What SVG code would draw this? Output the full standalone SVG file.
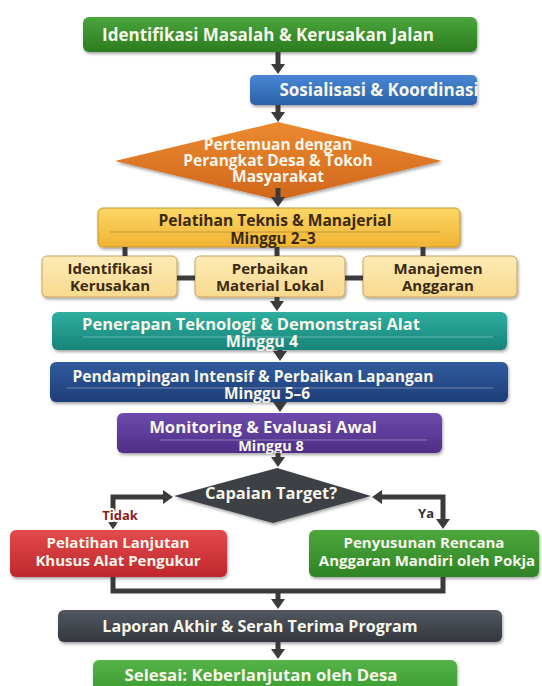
<svg xmlns="http://www.w3.org/2000/svg" width="542" height="686" viewBox="0 0 542 686">
<style>
  text { font-family: "Open Sans", "Noto Sans", "DejaVu Sans", sans-serif; font-weight: 700; text-anchor: middle; font-size: 15px; }
  .w { fill: #f7f6ea; }
  .d { fill: #3a2a12; }
  .box { filter: url(#sh); }
  .sepw { stroke: #ffffff; stroke-opacity: 0.35; stroke-width: 1; }
  .sepd { stroke: #a07a28; stroke-opacity: 0.6; stroke-width: 1; }
  .con { fill: none; stroke: #3b3b3b; stroke-width: 5; }
  .arr { marker-end: url(#ah); }
  .lbl { font-size: 13px; paint-order: stroke; stroke: #ffffff; stroke-width: 4px; stroke-linejoin: round; }
</style>
<defs>
  <filter id="sh" x="-10%" y="-20%" width="120%" height="150%">
    <feDropShadow dx="1" dy="2" stdDeviation="1.5" flood-color="#000" flood-opacity="0.35"/>
  </filter>
  <marker id="ah" viewBox="0 0 10 14" refX="1" refY="7" markerWidth="10" markerHeight="14" markerUnits="userSpaceOnUse" orient="auto-start-reverse">
    <path d="M0,0 L10,7 L0,14 z" fill="#3b3b3b"/>
  </marker>
  <marker id="ahs" viewBox="0 0 10 14" refX="1" refY="7" markerWidth="7" markerHeight="10" markerUnits="userSpaceOnUse" orient="auto-start-reverse">
    <path d="M0,0 L10,7 L0,14 z" fill="#3b3b3b"/>
  </marker>
  <linearGradient id="gGreen" x1="0" y1="0" x2="0" y2="1"><stop offset="0" stop-color="#4aa63b"/><stop offset="1" stop-color="#2c7b20"/></linearGradient>
  <linearGradient id="gBlue" x1="0" y1="0" x2="0" y2="1"><stop offset="0" stop-color="#4a88d4"/><stop offset="1" stop-color="#2a60a8"/></linearGradient>
  <linearGradient id="gOrange" x1="0" y1="0" x2="0" y2="1"><stop offset="0" stop-color="#ec8a30"/><stop offset="1" stop-color="#d0661c"/></linearGradient>
  <linearGradient id="gYellow" x1="0" y1="0" x2="0" y2="1"><stop offset="0" stop-color="#fcd766"/><stop offset="1" stop-color="#f1b333"/></linearGradient>
  <linearGradient id="gCream" x1="0" y1="0" x2="0" y2="1"><stop offset="0" stop-color="#fdebb6"/><stop offset="1" stop-color="#f8d98e"/></linearGradient>
  <linearGradient id="gTeal" x1="0" y1="0" x2="0" y2="1"><stop offset="0" stop-color="#2fae9f"/><stop offset="1" stop-color="#17847a"/></linearGradient>
  <linearGradient id="gNavy" x1="0" y1="0" x2="0" y2="1"><stop offset="0" stop-color="#325b9e"/><stop offset="1" stop-color="#1e3e78"/></linearGradient>
  <linearGradient id="gPurple" x1="0" y1="0" x2="0" y2="1"><stop offset="0" stop-color="#6d4bab"/><stop offset="1" stop-color="#4e2e88"/></linearGradient>
  <linearGradient id="gRed" x1="0" y1="0" x2="0" y2="1"><stop offset="0" stop-color="#e34a4c"/><stop offset="1" stop-color="#bf272c"/></linearGradient>
  <linearGradient id="gGreen2" x1="0" y1="0" x2="0" y2="1"><stop offset="0" stop-color="#4da83c"/><stop offset="1" stop-color="#2e8324"/></linearGradient>
  <linearGradient id="gGray" x1="0" y1="0" x2="0" y2="1"><stop offset="0" stop-color="#535861"/><stop offset="1" stop-color="#33373e"/></linearGradient>
  <linearGradient id="gGreen3" x1="0" y1="0" x2="0" y2="1"><stop offset="0" stop-color="#55b448"/><stop offset="1" stop-color="#3a9a30"/></linearGradient>
</defs>

<g id="n1"><rect class="box" x="83" y="17" width="394" height="35" rx="6" fill="url(#gGreen)"/>
  <text class="w" x="268" y="41" style="font-size:17px">Identifikasi Masalah &amp; Kerusakan Jalan</text></g>
<g id="n2"><rect class="box" x="250" y="75" width="227" height="30" rx="5" fill="url(#gBlue)"/>
  <text class="w" x="379" y="96" style="font-size:17px">Sosialisasi &amp; Koordinasi</text></g>
<g id="n3"><polygon class="box" points="278,122 442,161 278,200 115,161" fill="url(#gOrange)"/>
  <text class="w" x="278" y="150" style="font-size:15.5px">Pertemuan dengan</text>
  <text class="w" x="278" y="166" style="font-size:15.5px">Perangkat Desa &amp; Tokoh</text>
  <text class="w" x="278" y="182" style="font-size:15.5px">Masyarakat</text></g>
<g id="n4"><rect class="box" x="98" y="208" width="362" height="39" rx="5" fill="url(#gYellow)" stroke="#c4962c" stroke-width="1"/>
  <text class="d" x="275" y="226" style="font-size:15.6px">Pelatihan Teknis &amp; Manajerial</text>
  <line class="sepd" x1="110" y1="232" x2="440" y2="232"/>
  <text class="d" x="273" y="244" style="font-size:15.3px">Minggu 2–3</text></g>
<g id="n5"><rect class="box" x="42" y="256" width="135" height="41" rx="5" fill="url(#gCream)" stroke="#c9a25a" stroke-width="1"/>
  <text class="d" x="110" y="274">Identifikasi</text>
  <text class="d" x="110" y="291">Kerusakan</text></g>
<g id="n6"><rect class="box" x="195" y="256" width="150" height="41" rx="5" fill="url(#gCream)" stroke="#c9a25a" stroke-width="1"/>
  <text class="d" x="270" y="274">Perbaikan</text>
  <text class="d" x="270" y="291">Material Lokal</text></g>
<g id="n7"><rect class="box" x="363" y="256" width="154" height="41" rx="5" fill="url(#gCream)" stroke="#c9a25a" stroke-width="1"/>
  <text class="d" x="438" y="274">Manajemen</text>
  <text class="d" x="438" y="291">Anggaran</text></g>
<g id="n8"><rect class="box" x="52" y="312" width="455" height="38" rx="6" fill="url(#gTeal)"/>
  <text class="w" x="251" y="330" style="font-size:16.5px">Penerapan Teknologi &amp; Demonstrasi Alat</text>
  <line class="sepw" x1="83" y1="337" x2="493" y2="337"/>
  <text class="w" x="262" y="347" style="font-size:16px">Minggu 4</text></g>
<g id="n9"><rect class="box" x="50" y="362" width="458" height="40" rx="6" fill="url(#gNavy)"/>
  <text class="w" x="253" y="382" style="font-size:15.6px">Pendampingan Intensif &amp; Perbaikan Lapangan</text>
  <line class="sepw" x1="67" y1="388" x2="493" y2="388"/>
  <text class="w" x="267" y="399" style="font-size:15.4px">Minggu 5–6</text></g>
<g id="n10"><rect class="box" x="117" y="413" width="325" height="40" rx="6" fill="url(#gPurple)"/>
  <text class="w" x="263" y="433" style="font-size:16.7px">Monitoring &amp; Evaluasi Awal</text>
  <line class="sepw" x1="160" y1="440" x2="427" y2="440"/>
  <text class="w" x="271" y="451" style="font-size:14.5px">Minggu 8</text></g>
<g id="n11"><polygon class="box" points="277,468 371,496 273,523 174,496" fill="#3c3f45"/>
  <text class="w" x="271" y="499" style="font-size:16.5px">Capaian Target?</text></g>
<g id="n12"><rect class="box" x="10" y="530" width="217" height="47" rx="6" fill="url(#gRed)"/>
  <text class="w" x="118" y="548">Pelatihan Lanjutan</text>
  <text class="w" x="118" y="566">Khusus Alat Pengukur</text></g>
<g id="n13"><rect class="box" x="309" y="530" width="230" height="47" rx="6" fill="url(#gGreen2)"/>
  <text class="w" x="424" y="548">Penyusunan Rencana</text>
  <text class="w" x="427" y="566">Anggaran Mandiri oleh Pokja</text></g>
<g id="n14"><rect class="box" x="58" y="610" width="444" height="32" rx="6" fill="url(#gGray)"/>
  <text class="w" x="260" y="632" style="font-size:16.1px">Laporan Akhir &amp; Serah Terima Program</text></g>
<g id="n15"><rect class="box" x="93" y="660" width="364" height="34" rx="6" fill="url(#gGreen3)"/>
  <text class="w" x="261" y="681" style="font-size:16.8px">Selesai: Keberlanjutan oleh Desa</text></g>

<g id="connectors">
  <path class="con arr" d="M278,52 V65"/>
  <path class="con arr" d="M278,105 V113"/>
  <path class="con arr" d="M278,188 V198"/>
  <path class="con" d="M125,247 V256 M277,247 V256 M423,247 V256"/>
  <path class="con" d="M177,278 H195 M345,278 H363"/>
  <path class="con arr" d="M277,297 V302"/>
  <path class="con arr" d="M280,350 V352"/>
  <path class="con arr" d="M280,402 V403"/>
  <path class="con arr" d="M278,453 V458"/>
  <path class="con arr" d="M113,523 V497 H164" marker-start="url(#ahs)"/>
  <path class="con arr" d="M443,520 V497 H381" marker-start="url(#ah)"/>
  <path class="con" d="M113,577 V591 H443 V577"/>
  <path class="con arr" d="M278,591 V600"/>
  <path class="con arr" d="M278,642 V650"/>
  <text class="lbl" x="120" y="520" fill="#8b1c1c">Tidak</text>
  <text class="lbl" x="426" y="518" fill="#333333">Ya</text>
</g>
</svg>
